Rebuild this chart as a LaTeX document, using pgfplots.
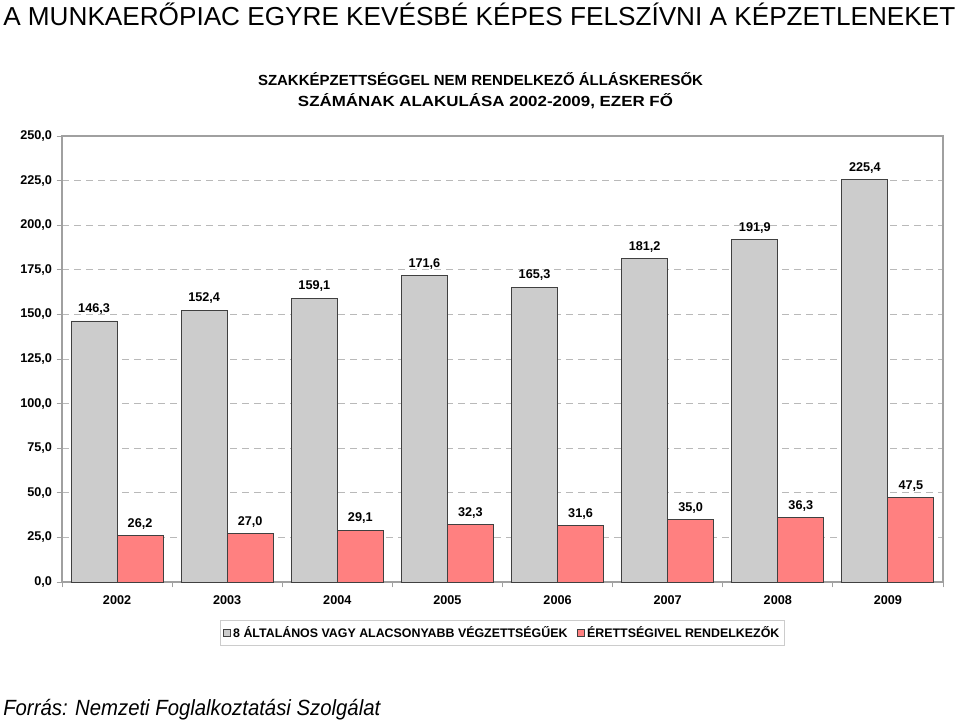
\documentclass[border=0pt]{standalone}
\usepackage{pgfplots}
\pgfplotsset{compat=1.18}
\usepackage{fontspec}
\setmainfont{Liberation Sans}
\definecolor{barGray}{RGB}{204,204,204}
\definecolor{barRed}{RGB}{255,128,128}
\definecolor{edge}{RGB}{64,64,64}
\definecolor{axisGray}{RGB}{160,160,160}
\definecolor{gridGray}{RGB}{185,185,185}
\begin{document}
\begin{tikzpicture}
\path[use as bounding box] (0,0) rectangle (719.25pt,540.75pt);
% titles
\node[anchor=base west, inner sep=0pt] at (2.25pt,{(721-25.5)*0.75pt})
  {\resizebox{714pt}{\height}{\fontsize{19.5}{24}\selectfont A MUNKAERŐPIAC EGYRE KEVÉSBÉ KÉPES FELSZÍVNI A KÉPZETLENEKET}};
\node[anchor=base, inner sep=0pt] at ({480.5*0.75pt},{(721-85.5)*0.75pt})
  {\resizebox{333.75pt}{\height}{\fontsize{11}{13}\selectfont\bfseries SZAKKÉPZETTSÉGGEL NEM RENDELKEZŐ ÁLLÁSKERESŐK}};
\node[anchor=base, inner sep=0pt] at ({485.5*0.75pt},{(721-106.5)*0.75pt})
  {\resizebox{281.25pt}{\height}{\fontsize{11}{13}\selectfont\bfseries SZÁMÁNAK ALAKULÁSA 2002-2009, EZER FŐ}};
\node[anchor=base west, inner sep=0pt] at (2.25pt,{(721-715.5)*0.75pt})
  {\resizebox{282.75pt}{\height}{\fontsize{16.5}{19}\selectfont\itshape Forrás: Nemzeti Foglalkoztatási Szolgálat}};
\begin{axis}[
  at={(46.5pt,104.25pt)}, anchor=south west,
  scale only axis, width=660.75pt, height=334.5pt,
  ybar=0pt, bar width=34.5pt,
  xmin=-0.5, xmax=7.5, ymin=0, ymax=250,
  ytick distance=25,
  xtick={0,1,2,3,4,5,6,7},
  xticklabels={2002,2003,2004,2005,2006,2007,2008,2009},
  minor xtick={-0.5,0.5,1.5,2.5,3.5,4.5,5.5,6.5,7.5},
  major x tick style={draw=none},
  minor tick length=4pt,
  major tick length=4pt,
  tick align=outside,
  xtick pos=bottom, ytick pos=left,
  tick style={axisGray, line width=0.6pt},
  axis line style={axisGray, line width=0.8pt},
  ymajorgrids, grid style={gridGray, dash pattern=on 5pt off 4pt, line width=0.6pt},
  yticklabel style={font=\fontsize{9.5}{11}\selectfont\bfseries, /pgf/number format/.cd, fixed, fixed zerofill, precision=1, use comma, assume math mode=true},
  xticklabel style={font=\fontsize{9.5}{11}\selectfont\bfseries, yshift=-3pt},
  nodes near coords={\pgfmathprintnumber[fixed,fixed zerofill,precision=1,use comma,assume math mode=true]{\pgfplotspointmeta}},
  every node near coord/.append style={font=\fontsize{9.5}{11}\selectfont\bfseries, black, yshift=1pt},
  legend columns=2,
  legend style={at={(0.5,-0.0852)}, anchor=north, draw=gray!40, line width=0.6pt,
    font=\fontsize{9.3}{11}\selectfont\bfseries, inner xsep=2pt, inner ysep=2.5pt,
    /tikz/every even column/.append style={column sep=5pt}},
  legend image code/.code={\draw[#1,draw=edge,line width=0.5pt] (0pt,-2.6pt) rectangle (5.2pt,2.6pt);},
]
\addplot[fill=barGray, draw=edge, line width=0.7pt] coordinates {
  (0,146.3) (1,152.4) (2,159.1) (3,171.6) (4,165.3) (5,181.2) (6,191.9) (7,225.4)};
\addplot[fill=barRed, draw=edge, line width=0.7pt] coordinates {
  (0,26.2) (1,27.0) (2,29.1) (3,32.3) (4,31.6) (5,35.0) (6,36.3) (7,47.5)};
\legend{8 ÁLTALÁNOS VAGY ALACSONYABB VÉGZETTSÉGŰEK, ÉRETTSÉGIVEL RENDELKEZŐK}
\end{axis}
\end{tikzpicture}
\end{document}
